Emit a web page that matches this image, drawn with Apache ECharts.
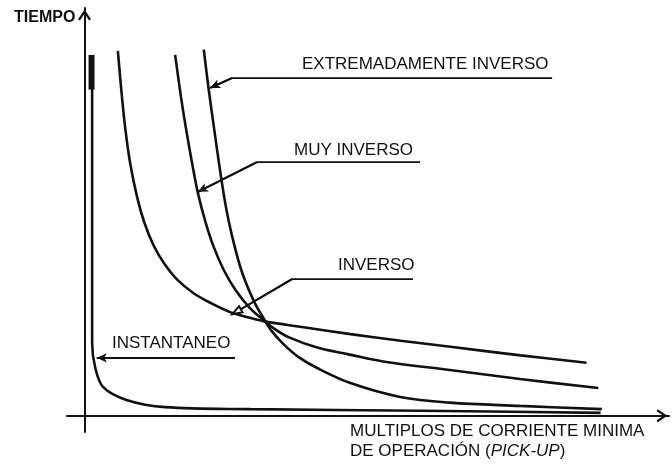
<html lang="es">
<head>
    <meta charset="utf-8">
    <title>Curvas de relés de sobrecorriente</title>
    <script src="https://cdn.jsdelivr.net/npm/echarts@6/dist/echarts.min.js"></script>
</head>
<body style="margin:0; background:#fff;">
    <div id="main" style="width: 672px; height: 467px;"></div>
    <script type="text/javascript">
        /*
         * Datos: [múltiplo de pick-up, tiempo] (unidades arbitrarias)
         */
        var instantaneo = [[0.13, 8.85], [0.13, 3.82], [0.13, 1.78], [0.18, 1.20], [0.32, 0.70],
            [0.73, 0.38], [1.38, 0.21], [2.84, 0.16], [5.75, 0.12], [8.83, 0.07]];
        var instantaneoTope = [[0.12, 8.85], [0.12, 8.0]];
        var inverso = [[0.57, 8.95], [0.64, 7.82], [0.70, 7.01], [0.78, 6.20], [0.90, 5.36],
            [1.02, 4.75], [1.18, 4.18], [1.36, 3.74], [1.59, 3.33], [1.86, 3.01], [2.15, 2.77],
            [2.49, 2.54], [2.83, 2.40], [3.06, 2.32], [3.69, 2.18], [4.55, 2.00], [5.41, 1.84],
            [6.26, 1.69], [7.46, 1.48], [8.59, 1.30]];
        var muyInverso = [[1.55, 8.85], [1.65, 7.82], [1.74, 7.01], [1.84, 6.20], [1.94, 5.46],
            [2.07, 4.75], [2.21, 4.14], [2.38, 3.58], [2.58, 3.09], [2.83, 2.64], [3.06, 2.35],
            [3.25, 2.13], [3.50, 1.92], [3.98, 1.67], [4.50, 1.51], [5.11, 1.33], [6.25, 1.12],
            [7.45, 0.90], [8.79, 0.68]];
        var extInverso = [[2.04, 8.98], [2.12, 8.05], [2.22, 7.01], [2.30, 6.20], [2.39, 5.36],
            [2.47, 4.75], [2.57, 4.14], [2.68, 3.58], [2.81, 3.09], [2.93, 2.72], [3.05, 2.42],
            [3.20, 2.08], [3.40, 1.76], [3.65, 1.45], [3.98, 1.17], [4.55, 0.80], [5.40, 0.46],
            [6.25, 0.32], [7.45, 0.24], [8.85, 0.16]];

        // líneas de referencia de las etiquetas: punta, codo, fin
        var guiaExt = [[2.15, 8.04], [2.52, 8.28], [8.00, 8.28]];
        var guiaMuy = [[1.94, 5.49], [2.95, 6.22], [5.74, 6.22]];
        var guiaInv = [[2.60, 2.55], [3.55, 3.35], [5.62, 3.35]];
        var guiaInst = [[0.21, 1.42], [2.57, 1.42]];

        var etiquetas = ['EXTREMADAMENTE INVERSO', 'MUY INVERSO', 'INVERSO', 'INSTANTANEO'];
        var ejeY = 'TIEMPO';
        var ejeX = ['MULTIPLOS DE CORRIENTE MINIMA', 'DE OPERACIÓN (', 'PICK-UP', ')'];

        var negro = '#111';
        var fuente = '"Liberation Sans", Arial, sans-serif';
        var flecha = 'path://M0,9 L6,0 L12,9 L10.2,10 L6,3.6 L1.8,10 Z';

        function curva(nombre, datos, ancho) {
            return {
                name: nombre,
                type: 'line',
                data: datos,
                smooth: 0.35,
                showSymbol: false,
                silent: true,
                lineStyle: { color: negro, width: ancho }
            };
        }

        function guia(nombre, datos, punta) {
            return {
                name: nombre,
                type: 'line',
                data: datos,
                showSymbol: false,
                silent: true,
                lineStyle: { color: negro, width: 1.8 },
                markLine: {
                    silent: true,
                    animation: false,
                    label: { show: false },
                    lineStyle: { color: negro, width: 1.8, type: 'solid' },
                    data: [[
                        { coord: datos[0], symbol: punta, symbolSize: [7, 10] },
                        { coord: datos[1], symbol: 'none' }
                    ]]
                }
            };
        }

        var chart = echarts.init(document.getElementById('main'));
        var option = {
            animation: false,
            backgroundColor: '#fff',
            grid: { left: 67, right: 3, top: 8, bottom: 35 },
            xAxis: {
                type: 'value',
                min: -0.3,
                max: 10,
                axisLine: {
                    onZero: true,
                    symbol: ['none', flecha],
                    symbolSize: [13, 14],
                    symbolOffset: [0, -7],
                    lineStyle: { color: negro, width: 2 }
                },
                axisTick: { show: false },
                axisLabel: { show: false },
                splitLine: { show: false }
            },
            yAxis: {
                type: 'value',
                min: -0.4,
                max: 10,
                axisLine: {
                    onZero: true,
                    symbol: ['none', flecha],
                    symbolSize: [13, 14],
                    symbolOffset: [0, -7],
                    lineStyle: { color: negro, width: 2 }
                },
                axisTick: { show: false },
                axisLabel: { show: false },
                splitLine: { show: false }
            },
            series: [
                curva('INSTANTANEO', instantaneo, 2.6),
                curva('INSTANTANEO tope', instantaneoTope, 6),
                curva('INVERSO', inverso, 2.6),
                curva('MUY INVERSO', muyInverso, 2.6),
                curva('EXTREMADAMENTE INVERSO', extInverso, 2.6),
                guia('guia ext', guiaExt, 'arrow'),
                guia('guia muy', guiaMuy, 'arrow'),
                guia('guia inv', guiaInv, 'emptyTriangle'),
                guia('guia inst', guiaInst, 'arrow')
            ],
            graphic: [
                { type: 'text', left: 14, top: 10, style: { text: ejeY, font: 'bold 16px ' + fuente, fill: negro } },
                { type: 'text', x: 302, y: 64, style: { text: etiquetas[0], font: '17px ' + fuente, fill: negro, verticalAlign: 'middle' } },
                { type: 'text', x: 294, y: 150, style: { text: etiquetas[1], font: '17px ' + fuente, fill: negro, verticalAlign: 'middle' } },
                { type: 'text', x: 338, y: 265.5, style: { text: etiquetas[2], font: '17px ' + fuente, fill: negro, verticalAlign: 'middle' } },
                { type: 'text', x: 112, y: 343.5, style: { text: etiquetas[3], font: '17px ' + fuente, fill: negro, verticalAlign: 'middle' } },
                { type: 'text', x: 350, y: 431, style: { text: ejeX[0], font: '17px ' + fuente, fill: negro, verticalAlign: 'middle' } },
                {
                    type: 'text', x: 350, y: 451,
                    style: {
                        text: '{n|' + ejeX[1] + '}{i|' + ejeX[2] + '}{n|' + ejeX[3] + '}',
                        verticalAlign: 'middle',
                        rich: {
                            n: { font: '17px ' + fuente, fill: negro },
                            i: { font: 'italic 17px ' + fuente, fill: negro }
                        }
                    }
                }
            ]
        };
        option && chart.setOption(option);
    </script>
</body>
</html>
